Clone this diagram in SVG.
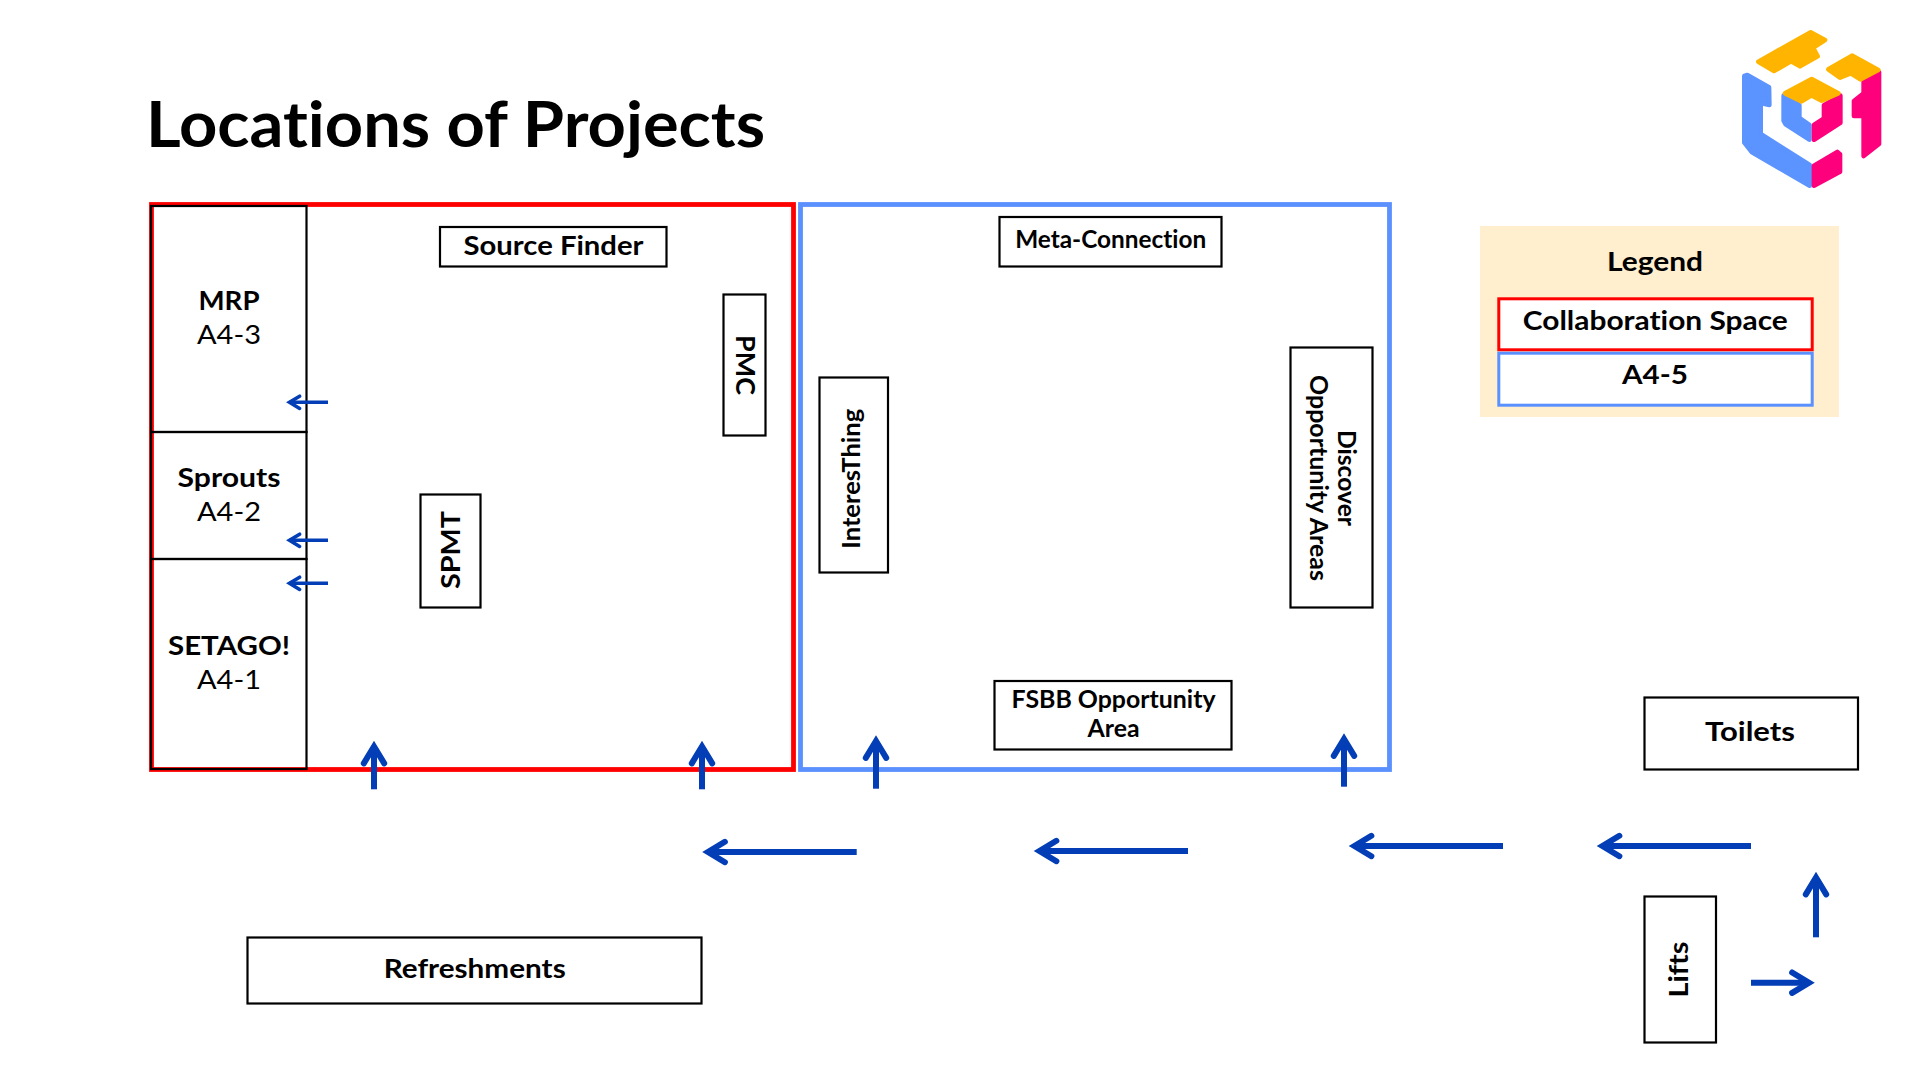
<svg xmlns="http://www.w3.org/2000/svg" width="1920" height="1080" viewBox="0 0 1920 1080">
<style>
text{font-family:"Lato","Noto Sans","Liberation Sans",sans-serif;fill:#000;text-anchor:middle;font-weight:700;font-size:26.67px;font-variant-ligatures:none}
.title{text-anchor:start;font-size:64px;font-weight:700}
.sub{font-weight:400}
.m{font-size:24px}
.box{fill:#fff;stroke:#000;stroke-width:2.2}
.open{fill:none;stroke:#000;stroke-width:2.2}
.red{fill:none;stroke:#f00;stroke-width:4.8}
.blue{fill:none;stroke:#5b90ff;stroke-width:4.8}
.lr{fill:#fff;stroke:#f00;stroke-width:3}
.lb{fill:#fff;stroke:#5b90ff;stroke-width:3}
.arrow{stroke:#033eb6;fill:none;marker-end:url(#head)}
.big{stroke-width:6}
.small{stroke-width:3.6}
.o{fill:#ffb400;stroke:#ffb400}
.b{fill:#5b93ff;stroke:#5b93ff}
.p{fill:#ff007d;stroke:#ff007d}
.logo path{stroke-width:14;stroke-linejoin:round}
</style>
<defs>
<marker id="head" viewBox="-4 -3 6 6" refX="0" refY="0" markerWidth="6" markerHeight="6" markerUnits="strokeWidth" orient="auto" overflow="visible">
<path d="M-2.81 -1.7L0 0L-2.81 1.7" fill="none" stroke="#033eb6" stroke-width="1" stroke-linecap="round" stroke-linejoin="miter" stroke-miterlimit="10"/>
</marker>
</defs>
<rect width="1920" height="1080" fill="#fff"/>
<text class="title" x="146" y="147" textLength="619" lengthAdjust="spacingAndGlyphs">Locations of Projects</text>

<g id="logo" class="logo" transform="translate(1720 10) scale(.33333)">
<path class="p" d="M477 187V402L431 438V318H402V273L431 250V216Z"/>
<path class="b" d="M73 198L82 195L147 232L148 285L122 279V372L269 465V527L96 427L73 398Z"/>
<path class="p" d="M282 467L352 426L360 433V485L282 527Z"/>
<path class="b" d="M191 257L238 286V324L268 345V389L197 343L191 332Z"/>
<path class="p" d="M361 257L361 338L282 389V345L312 325V286Z"/>
<path class="o" d="M115 155L272 67L315 90L279 113L293 139L240 169L213 154L162 183Z"/>
<path class="o" d="M325 178L396 137L475 180L421 208L392 190L360 203Z"/>
<path class="o" d="M195 250L275 207L355 250L305 272L275 256L245 274Z"/>
</g>

<g id="collab-space"><rect class="red" x="151.5" y="204.5" width="642" height="565"/></g>
<g id="a4-5-space"><rect class="blue" x="800.5" y="204.5" width="589" height="565"/></g>

<g id="mrp"><rect class="open" x="151" y="206" width="155.5" height="226"/><text x="229" y="309.5" textLength="61" lengthAdjust="spacingAndGlyphs">MRP</text><text class="sub" x="229" y="343.5" textLength="64" lengthAdjust="spacingAndGlyphs">A4-3</text></g>
<g id="sprouts"><rect class="open" x="151" y="432" width="155.5" height="127"/><text x="229" y="486.5" textLength="103" lengthAdjust="spacingAndGlyphs">Sprouts</text><text class="sub" x="229" y="520.5" textLength="64" lengthAdjust="spacingAndGlyphs">A4-2</text></g>
<g id="setago"><rect class="open" x="151" y="559" width="155.5" height="210"/><text x="229" y="654.5" textLength="122" lengthAdjust="spacingAndGlyphs">SETAGO!</text><text class="sub" x="229" y="688.5" textLength="64" lengthAdjust="spacingAndGlyphs">A4-1</text></g>

<g id="source-finder"><rect class="box" x="440" y="227" width="226.5" height="39.5"/><text x="553.5" y="254.5" textLength="180" lengthAdjust="spacingAndGlyphs">Source Finder</text></g>
<g id="spmt"><rect class="box" x="420.5" y="494.5" width="60" height="113"/><text transform="translate(459.5 550) rotate(-90)" textLength="78" lengthAdjust="spacingAndGlyphs">SPMT</text></g>
<g id="pmc"><rect class="box" x="723.5" y="294.5" width="42" height="141"/><text transform="translate(736 365) rotate(90)" textLength="60" lengthAdjust="spacingAndGlyphs">PMC</text></g>
<g id="interesthing"><rect class="box" x="819.5" y="377.5" width="68.5" height="195"/><text class="m" transform="translate(860 478.7) rotate(-90)" textLength="140" lengthAdjust="spacingAndGlyphs">InteresThing</text></g>
<g id="discover"><rect class="box" x="1290.5" y="347.5" width="82" height="260"/><text class="m" transform="translate(1338.3 478) rotate(90)" textLength="96" lengthAdjust="spacingAndGlyphs">Discover</text><text class="m" transform="translate(1310 478) rotate(90)" textLength="206" lengthAdjust="spacingAndGlyphs">Opportunity Areas</text></g>
<g id="meta-connection"><rect class="box" x="999.5" y="217" width="222" height="49.5"/><text class="m" x="1110.7" y="248" textLength="191" lengthAdjust="spacingAndGlyphs">Meta-Connection</text></g>
<g id="fsbb"><rect class="box" x="994.5" y="681" width="237" height="68.5"/><text class="m" x="1113.5" y="708.2" textLength="204" lengthAdjust="spacingAndGlyphs">FSBB Opportunity</text><text class="m" x="1113.5" y="737.2" textLength="52" lengthAdjust="spacingAndGlyphs">Area</text></g>
<g id="refreshments"><rect class="box" x="247.5" y="937.5" width="454" height="66"/><text x="474.7" y="978" textLength="182" lengthAdjust="spacingAndGlyphs">Refreshments</text></g>
<g id="toilets"><rect class="box" x="1644.5" y="697.5" width="213.5" height="72"/><text x="1750" y="741" textLength="90" lengthAdjust="spacingAndGlyphs">Toilets</text></g>
<g id="lifts"><rect class="box" x="1644.5" y="896.5" width="71.5" height="146"/><text transform="translate(1688.4 969.5) rotate(-90)" textLength="56" lengthAdjust="spacingAndGlyphs">Lifts</text></g>

<g id="legend">
<rect x="1480" y="226" width="359" height="191" fill="#ffefcf"/>
<text x="1655" y="270.7" textLength="96" lengthAdjust="spacingAndGlyphs">Legend</text>
<rect class="lr" x="1498.8" y="298.8" width="313.4" height="51"/>
<text x="1655.3" y="329.5" textLength="265" lengthAdjust="spacingAndGlyphs">Collaboration Space</text>
<rect class="lb" x="1498.8" y="353.2" width="313.4" height="52"/>
<text x="1655" y="383.5" textLength="66" lengthAdjust="spacingAndGlyphs">A4-5</text>
</g>

<g id="connectors">
<path class="arrow small" d="M328 402.3H289.5"/>
<path class="arrow small" d="M328 540.3H289.5"/>
<path class="arrow small" d="M328 583.3H289.5"/>
<path class="arrow big" d="M374 789.3V746.5"/>
<path class="arrow big" d="M702 789.3V746.5"/>
<path class="arrow big" d="M876 788.7V741"/>
<path class="arrow big" d="M1344 786.7V739"/>
<path class="arrow big" d="M856.7 852H708"/>
<path class="arrow big" d="M1188 851H1039.5"/>
<path class="arrow big" d="M1503 846H1354.5"/>
<path class="arrow big" d="M1751 846H1602.5"/>
<path class="arrow big" d="M1816 937.3V877.5"/>
<path class="arrow big" d="M1751 982.7H1809"/>
</g>
</svg>
